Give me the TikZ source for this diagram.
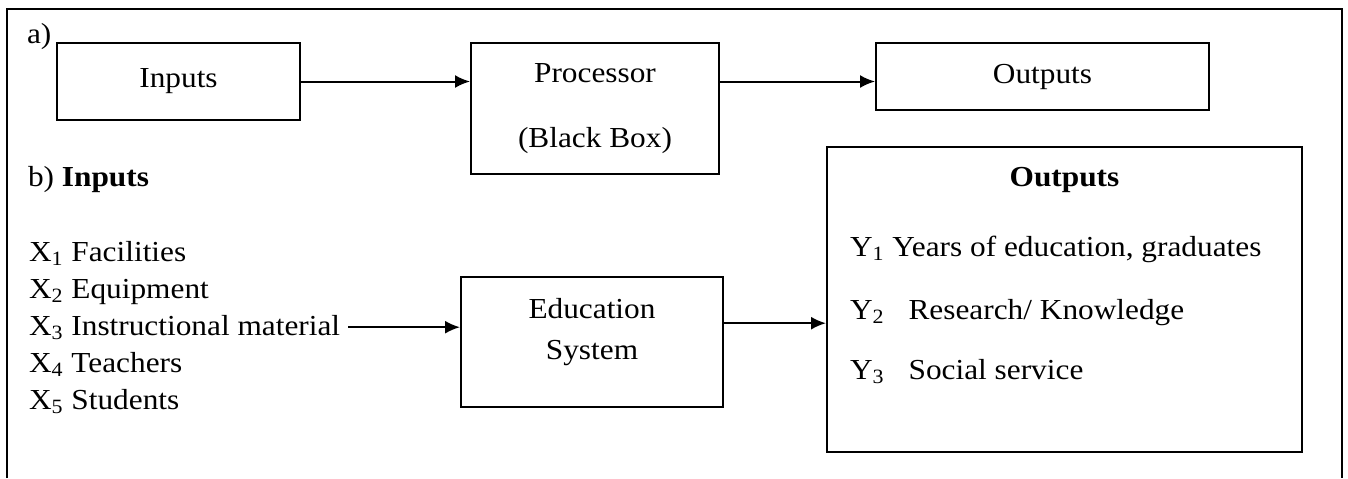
\documentclass[tikz,border=0pt]{standalone}
\usepackage{fontspec}
\setmainfont{Liberation Serif}[FakeStretch=1.08]
\usetikzlibrary{arrows.meta}

\begin{document}
\begin{tikzpicture}[x=0.5pt,y=-0.5pt,line width=1pt,
  font=\fontsize{14.5}{17.5}\selectfont,
  >={Latex[length=7.5pt,width=6.5pt]},
  box/.style={draw,inner sep=0pt},
  txt/.style={inner xsep=3.5pt,inner ysep=0pt}]
\useasboundingbox (0,0) rectangle (1348,478);
% frame, open at the bottom
\draw[line width=1.1pt] (7,478) -- (7,9) -- (1342,9) -- (1342,478);

% a) the system as a black box
\node[txt,anchor=base west] (a)at(19,43){a)};
\node[box,minimum width=121.5pt,minimum height=38.5pt] (inp)at(178.5,81.5){Inputs};
\node[box,minimum width=124pt,minimum height=65.5pt,align=center] (proc)at(595,108.5){Processor\\[15pt](Black Box)};
\node[box,minimum width=166.5pt,minimum height=33.5pt] (outa)at(1042.5,76.5){Outputs};
\draw[->] (inp.east) -- (inp.east -| proc.west);
\draw[->] (proc.east |- inp.east) -- (outa.west |- inp.east);

% b) the education system
\node[txt,anchor=base west] (b)at(20,186){b) \textbf{Inputs}};
\node[txt,anchor=base west] (x1)at(21,261){X\textsubscript{1} Facilities};
\node[txt,anchor=base west] (x2)at(21,298){X\textsubscript{2} Equipment};
\node[txt,anchor=base west] (x3)at(21,335){X\textsubscript{3} Instructional material};
\node[txt,anchor=base west] (x4)at(21,372){X\textsubscript{4} Teachers};
\node[txt,anchor=base west] (x5)at(21,409){X\textsubscript{5} Students};

\node[box,minimum width=131pt,minimum height=65pt] (edu)at(592,342){};
\node[align=center] (edutxt)at(592,332.5){Education\\[3pt]System};

\node[box,minimum width=237.5pt,minimum height=152.5pt] (outbox)at(1064.5,299.5){};
\node[anchor=base] (outtitle)at(1064.5,186){\textbf{Outputs}};
\node[txt,anchor=base west] (y1)at(842,256){Y\textsubscript{1} Years of education, graduates};
\node[txt,anchor=base west] (y2)at(842,319){Y\textsubscript{2}\hspace{12pt}Research/ Knowledge};
\node[txt,anchor=base west] (y3)at(842,379){Y\textsubscript{3}\hspace{12pt}Social service};

\draw[->] (x3.east) -- (x3.east -| edu.west);
\draw[->] ([yshift=2pt]edu.east |- x3.east) -- ([yshift=2pt]outbox.west |- x3.east);
\end{tikzpicture}
\end{document}
